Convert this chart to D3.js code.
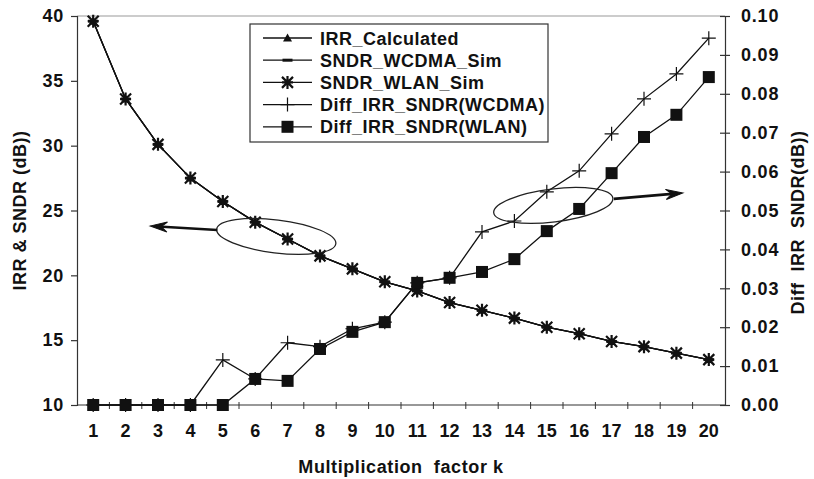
<!DOCTYPE html>
<html>
<head>
<meta charset="utf-8">
<script src="https://cdn.jsdelivr.net/npm/d3@7"></script>
<style>
  html, body { margin: 0; padding: 0; background: #fff; }
  svg { display: block; }
  text { font-family: "Liberation Sans", Arial, Helvetica, sans-serif; font-weight: bold; fill: #111; }
</style>
</head>
<body>
<svg id="chart" width="814" height="479"></svg>
<script>
// Multiplication factor k
const kValues = [1, 2, 3, 4, 5, 6, 7, 8, 9, 10, 11, 12, 13, 14, 15, 16, 17, 18, 19, 20];

// Left axis series (dB)
const irrCalculated = [39.6, 33.6, 30.1, 27.5, 25.7, 24.1, 22.8, 21.5, 20.5, 19.5, 18.8, 17.9, 17.3, 16.7, 16.0, 15.5, 14.9, 14.5, 14.0, 13.5];
const sndrWcdmaSim  = [39.6, 33.6, 30.1, 27.5, 25.7, 24.1, 22.8, 21.5, 20.5, 19.5, 18.8, 17.9, 17.3, 16.7, 16.0, 15.5, 14.9, 14.5, 14.0, 13.5];
const sndrWlanSim   = [39.6, 33.6, 30.1, 27.5, 25.7, 24.1, 22.8, 21.5, 20.5, 19.5, 18.8, 17.9, 17.3, 16.7, 16.0, 15.5, 14.9, 14.5, 14.0, 13.5];

// Right axis series (dB)
const diffWcdma = [0, 0, 0, 0, 0.0116, 0.0067, 0.0160, 0.0150, 0.0196, 0.0213, 0.0314, 0.0327, 0.0445, 0.0473, 0.0548, 0.0602, 0.0697, 0.0787, 0.0851, 0.0943];
const diffWlan  = [0, 0, 0, 0, 0, 0.0067, 0.0062, 0.0144, 0.0188, 0.0213, 0.0314, 0.0327, 0.0342, 0.0375, 0.0447, 0.0504, 0.0596, 0.0689, 0.0746, 0.0843];

// Tick values
const leftTicks  = [10, 15, 20, 25, 30, 35, 40];
const rightTicks = [0, 0.01, 0.02, 0.03, 0.04, 0.05, 0.06, 0.07, 0.08, 0.09, 0.10];

const legendNames = ["IRR_Calculated", "SNDR_WCDMA_Sim", "SNDR_WLAN_Sim", "Diff_IRR_SNDR(WCDMA)", "Diff_IRR_SNDR(WLAN)"];

const plot = { left: 77, right: 725, top: 16, bottom: 405 };
const svg = d3.select("#chart");
const ink = "#111";
const fontSize = "18px";

const x = d3.scaleBand().domain(kValues).range([plot.left, plot.right]).padding(0);
const cx = k => x(k) + x.bandwidth() / 2;
const kPos = k => x(Math.floor(k)) + x.bandwidth() * (k - Math.floor(k) + 0.5);
const yL = d3.scaleLinear().domain([10, 40]).range([plot.bottom, plot.top]);
const yR = d3.scaleLinear().domain([0, 0.1]).range([plot.bottom, plot.top]);

// Top frame line
svg.append("line")
  .attr("x1", plot.left).attr("x2", plot.right)
  .attr("y1", plot.top).attr("y2", plot.top)
  .attr("stroke", "#999").attr("stroke-width", 1);

// Left axis
const gL = svg.append("g").attr("transform", `translate(${plot.left},0)`)
  .call(d3.axisLeft(yL).tickValues(leftTicks).tickSize(6).tickPadding(7).tickFormat(d3.format("d")));
gL.selectAll("text").style("font-size", fontSize).style("letter-spacing", "0.8px");

// Right axis (ticks cross the line)
const gR = svg.append("g").attr("transform", `translate(${plot.right},0)`)
  .call(d3.axisRight(yR).tickValues(rightTicks).tickSize(5).tickPadding(11).tickFormat(d3.format(".2f")));
gR.selectAll(".tick line").attr("x1", -5);
gR.selectAll("text").style("font-size", fontSize).style("letter-spacing", "0.8px");

// Bottom axis: labels centred on categories, ticks on category boundaries
const gB = svg.append("g").attr("transform", `translate(0,${plot.bottom})`)
  .call(d3.axisBottom(x).tickSize(0).tickPadding(19));
gB.selectAll("text").style("font-size", fontSize);
gB.select(".domain").attr("d", `M${plot.left},0H${plot.right}`);
gB.selectAll(".boundary").data(kValues.slice(1))
  .join("line").attr("class", "boundary")
  .attr("x1", k => x(k)).attr("x2", k => x(k))
  .attr("y1", -3).attr("y2", 4)
  .attr("stroke", "#333");

svg.selectAll(".domain, .tick line").attr("stroke", "#333").attr("stroke-width", 1.2);

// Axis titles
svg.append("text")
  .attr("x", (plot.left + plot.right) / 2).attr("y", 473)
  .attr("text-anchor", "middle").style("font-size", fontSize).style("letter-spacing", "0.6px").style("white-space", "pre")
  .text("Multiplication  factor k");
svg.append("text")
  .attr("transform", `translate(26,${(plot.top + plot.bottom) / 2}) rotate(-90)`)
  .attr("text-anchor", "middle").style("font-size", fontSize).style("letter-spacing", "0.5px")
  .text("IRR & SNDR (dB))");
svg.append("text")
  .attr("transform", `translate(804,${(plot.top + plot.bottom) / 2 + 12}) rotate(-90)`)
  .attr("text-anchor", "middle").style("font-size", fontSize).style("letter-spacing", "0.5px").style("white-space", "pre")
  .text("Diff  IRR  SNDR(dB))");

// Markers
function drawMarker(g, type, px, py) {
  if (type === "triangle") {
    g.append("path").attr("d", `M${px},${py - 4.5}L${px + 4.5},${py + 3.5}L${px - 4.5},${py + 3.5}Z`).attr("fill", ink);
  } else if (type === "dash") {
    g.append("rect").attr("x", px - 5).attr("y", py - 1.5).attr("width", 10).attr("height", 3).attr("fill", ink);
  } else if (type === "star") {
    const r = 5.5;
    g.append("path")
      .attr("d", `M${px - r},${py - r}L${px + r},${py + r}M${px - r},${py + r}L${px + r},${py - r}M${px},${py - r - 1}L${px},${py + r + 1}M${px - r},${py}L${px + r},${py}`)
      .attr("stroke", ink).attr("stroke-width", 2.2).attr("fill", "none");
  } else if (type === "plus") {
    const r = 7;
    g.append("path")
      .attr("d", `M${px - r},${py}L${px + r},${py}M${px},${py - r}L${px},${py + r}`)
      .attr("stroke", ink).attr("stroke-width", 1.2).attr("fill", "none");
  } else if (type === "square") {
    g.append("rect").attr("x", px - 6).attr("y", py - 6).attr("width", 12).attr("height", 12).attr("fill", ink);
  }
}

const series = [
  { name: legendNames[0], values: irrCalculated, y: yL, marker: "triangle" },
  { name: legendNames[1], values: sndrWcdmaSim, y: yL, marker: "dash" },
  { name: legendNames[2], values: sndrWlanSim, y: yL, marker: "star" },
  { name: legendNames[3], values: diffWcdma, y: yR, marker: "plus" },
  { name: legendNames[4], values: diffWlan, y: yR, marker: "square" }
];

const line = d3.line();
series.forEach(s => {
  const pts = kValues.map((k, i) => [cx(k), s.y(s.values[i])]);
  const g = svg.append("g");
  g.append("path").attr("d", line(pts)).attr("fill", "none").attr("stroke", ink).attr("stroke-width", 1.3);
  pts.forEach(p => drawMarker(g, s.marker, p[0], p[1]));
});

// Annotation ellipses with arrows pointing to the relevant axis
function arrow(x1, y1, x2, y2) {
  const ang = Math.atan2(y2 - y1, x2 - x1) * 180 / Math.PI;
  const len = Math.hypot(x2 - x1, y2 - y1);
  const g = svg.append("g").attr("transform", `translate(${x1},${y1}) rotate(${ang})`);
  g.append("line").attr("x1", 0).attr("y1", 0).attr("x2", len - 8).attr("y2", 0)
    .attr("stroke", ink).attr("stroke-width", 2.6);
  g.append("path").attr("d", `M${len},0L${len - 17},-5L${len - 11},0L${len - 17},5Z`)
    .attr("fill", ink).attr("stroke", ink).attr("stroke-width", 1).attr("stroke-linejoin", "miter");
}

function ellipse(k, v, yScale, rot) {
  svg.append("ellipse")
    .attr("transform", `translate(${kPos(k)},${yScale(v)}) rotate(${rot})`)
    .attr("rx", 60).attr("ry", 16.5)
    .attr("fill", "none").attr("stroke", "#222").attr("stroke-width", 1.3);
}

ellipse(6.65, 23.0, yL, 7);
arrow(kPos(4.83), yL(23.5), kPos(2.76), yL(23.8));

ellipse(15.2, 0.0513, yR, -7);
arrow(kPos(17.07), yR(0.0530), kPos(19.2), yR(0.0545));

// Legend
const lg = svg.append("g").attr("transform", "translate(250,24)");
lg.append("rect").attr("x", 0).attr("y", 0).attr("width", 298).attr("height", 118)
  .attr("fill", "#fff").attr("stroke", "#333").attr("stroke-width", 1.2);
series.forEach((s, i) => {
  const yy = 14 + i * 22.2;
  lg.append("line").attr("x1", 13).attr("x2", 62).attr("y1", yy).attr("y2", yy)
    .attr("stroke", ink).attr("stroke-width", 1.3);
  drawMarker(lg, s.marker, 37.5, yy);
  lg.append("text").attr("x", 70).attr("y", yy + 6.5)
    .style("font-size", fontSize).style("letter-spacing", "0.5px").text(s.name);
});
</script>
</body>
</html>
